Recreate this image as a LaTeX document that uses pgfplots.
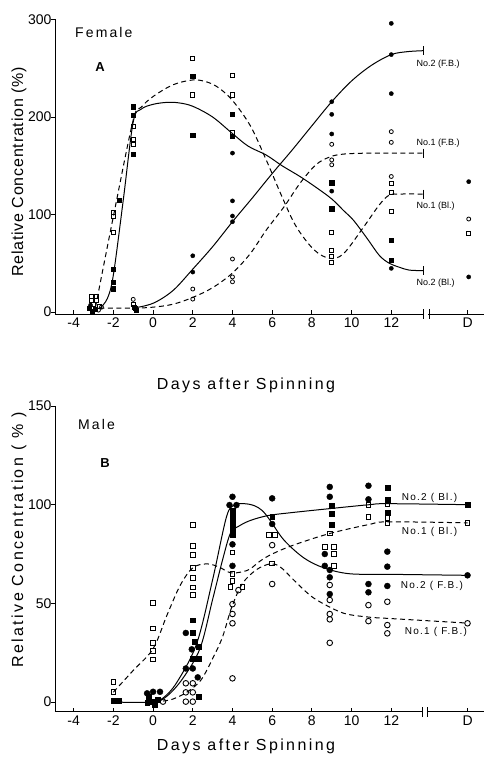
\documentclass[border=0pt]{standalone}
\usepackage{pgfplots}
\pgfplotsset{compat=1.18}
\usepackage{fontspec}
\setmainfont{Liberation Sans}
\newfontfamily\lsbig[LetterSpace=15]{Liberation Sans}
\newfontfamily\lsmid[LetterSpace=5]{Liberation Sans}
\newfontfamily\lssmall[LetterSpace=13]{Liberation Sans}
\begin{document}
\begin{tikzpicture}
\useasboundingbox (0pt,0pt) rectangle (486pt,761pt);
\pgfplotsset{
  panel/.style={
    scale only axis, width=429pt, xmin=-4.94, xmax=16.67,
    axis lines=left, axis line style={-, line width=0.9pt},
    clip=false,
    xtick={-4,-2,0,2,4,6,8,10,12,15.85},
    xticklabels={-4,-2,0,2,4,6,8,10,12,D},
    tick align=inside, major tick length=4pt,
    tick style={black, line width=0.9pt},
    y tick style={xshift=-4pt},
    tick label style={font=\fontsize{14}{14}\selectfont},
  },
  crv/.style={smooth, tension=0.55, line width=1pt, no marks},
  dsh/.style={dash pattern=on 5pt off 3.5pt},
  fcA/.style={only marks, mark=*, mark size=2.1pt},
  ocA/.style={only marks, mark=o, mark size=2pt, mark options={line width=0.8pt}},
  fsA/.style={only marks, mark=square*, mark size=2.1pt},
  osA/.style={only marks, mark=square, mark size=2.1pt, mark options={line width=0.8pt}},
  fcB/.style={only marks, mark=*, mark size=3pt},
  ocB/.style={only marks, mark=o, mark size=2.8pt, mark options={line width=0.9pt}},
  fsB/.style={only marks, mark=square*, mark size=2.4pt},
  osB/.style={only marks, mark=square, mark size=2.3pt, mark options={line width=0.9pt}},
}
% ---------------- Panel A ----------------
\begin{axis}[panel, at={(55pt,447pt)}, anchor=south west, height=294.5pt,
  ymin=-2, ymax=300, ytick={0,100,200,300}, yticklabels={0,100,200,300}]
\addplot[crv] coordinates {(-1,4) (0,9) (1,22) (2,44) (3,67) (4,92.6) (5,117) (6,142) (7,166) (8,191) (9,215.7) (10,237) (11,253) (12,264) (12.8,267) (13.6,268)};
\addplot[crv,dsh] coordinates {(-2.7,4) (-1,4) (0,5) (1,8) (2,15) (3,25) (4,40) (4.9,60) (5.7,84) (6.6,108) (7.4,132) (8.2,151) (8.9,159) (9.6,162) (11,163) (13.6,163)};
\addplot[crv,dsh] coordinates {(-2.9,5) (-2,98) (-1,197) (-0.6,210) (0,221) (1,233) (2,238) (2.7,236) (3.3,230) (4,217) (4.9,191) (5.7,156) (6.5,118) (7.2,88) (8.1,64) (8.9,55) (9.6,60) (10.6,87) (11.4,110) (11.9,120) (12.4,121) (13.6,121)};
\addplot[crv] coordinates {(-2.67,4) (-2.3,14) (-2,38) (-1.5,115) (-1,195) (-0.6,208) (0,213) (0.7,215) (1.3,214.5) (2,211) (3,200) (4,183) (4.8,170) (5.7,161) (6.5,150) (7.4,139) (8.2,128) (9,116) (9.6,104) (10.1,94) (10.8,75) (11.4,58) (11.9,50) (12.4,46) (12.9,43) (13.6,42.5)};
\addplot[only marks, mark=|, mark size=4.5pt, mark options={line width=0.9pt}] coordinates {(13.6,268) (13.6,163) (13.6,121) (13.6,42.5)};
\addplot[fcA] coordinates {(2,57.7) (2,41) (4,163) (4,114) (4,98.5) (4,92.6) (9,215.7) (9,202.7) (9,182.6) (9,124) (12,296) (12,264) (12,224) (12,44.8) (15.9,133.7) (15.9,36) (-3.15,7)};
\addplot[ocA] coordinates {(2,23.6) (2,13.3) (4,54.4) (4,36) (4,31) (9,172) (9,156) (9,151) (12,185) (12,174) (12,139) (15.9,95.4) (-1,13) (-2.75,2) (-2.6,5)};
\addplot[fsA] coordinates {(-1,210.6) (-1,202) (-1,161.7) (-1.7,115) (-2,43.8) (-2,31) (-2,24) (2,242) (2,181.5) (4,202.7) (4,180) (9,132.6) (9,106) (12,74) (12,53) (-3.2,4) (-3.05,1) (-2.9,3) (-0.95,5) (-0.85,2)};
\addplot[osA] coordinates {(-1,190) (-1,177) (-1,172) (-2,102) (-2,98) (-2,81.3) (2,260) (2,222.6) (4,243) (4,222.6) (4,184) (9,81.7) (9,63.6) (9,56.7) (9,50.6) (12,132) (12,122.8) (12,103) (15.9,80.7) (-3.1,16) (-2.85,16) (-3.1,12) (-2.85,12) (-3.0,8) (-2.7,6) (-1,8) (-0.9,4)};
\draw[white, line width=3pt] (axis cs:13.63,-2) -- (axis cs:13.87,-2);
\draw[line width=0.9pt] ([yshift=-5pt]axis cs:13.6,-2) -- ([yshift=5pt]axis cs:13.6,-2);
\draw[line width=0.9pt] ([yshift=-5pt]axis cs:13.9,-2) -- ([yshift=5pt]axis cs:13.9,-2);
\node[anchor=west, font=\fontsize{9}{9}\selectfont] at (axis cs:13.1,254) {No.2 (F.B.)};
\node[anchor=west, font=\fontsize{9}{9}\selectfont] at (axis cs:13.1,173) {No.1 (F.B.)};
\node[anchor=west, font=\fontsize{9}{9}\selectfont] at (axis cs:13.1,109) {No.1 (Bl.)};
\node[anchor=west, font=\fontsize{9}{9}\selectfont] at (axis cs:13.1,29.5) {No.2 (Bl.)};
\node[anchor=west, inner sep=0pt, font=\lsbig\fontsize{14}{14}\selectfont] at (axis cs:-3.93,287) {Female};
\node[font=\bfseries\fontsize{13}{13}\selectfont] at (axis cs:-2.67,251) {A};
\end{axis}
\node[rotate=90, font=\lsmid\fontsize{16}{16}\selectfont] at (19pt,589pt) {Relative Concentration (\%)};
\node[font=\lsbig\fontsize{16}{16}\selectfont] at (246pt,376pt) {Days after Spinning};
% ---------------- Panel B ----------------
\begin{axis}[panel, at={(55pt,49.1pt)}, anchor=south west, height=305.9pt,
  ymin=-5, ymax=150, ytick={0,50,100,150}, yticklabels={0,50,100,150}]
\addplot[crv] coordinates {(-2,0) (0,0) (0.7,3) (1.5,12) (2.37,27.3) (3,52) (3.5,72) (3.9,85.6) (4.3,89) (4.9,92) (5.8,94.5) (7,96) (8.9,98) (10.9,100) (11.8,100.5) (15.84,100)};
\addplot[crv] coordinates {(0,0) (0.5,2) (1.2,10) (2.2,29.7) (3,62) (3.7,93.9) (4.1,99.8) (4.6,100.5) (5.1,99.5) (5.5,97) (5.9,92) (6.6,82) (7.6,73) (8.6,68) (9.9,65) (12,64.7) (15.84,64.2)};
\addplot[crv,dsh] coordinates {(-2,5) (-1,16) (0,27) (0.7,44) (1.36,59) (2,68) (2.7,70) (3.3,68.5) (3.9,65.5) (4.5,66) (4.9,67.5) (5.4,71.5) (6,75) (7.07,79.5) (8.9,85.4) (10.9,90) (11.8,91.3) (15.84,90.8)};
\addplot[crv,dsh] coordinates {(0.5,0.5) (1,1.5) (1.7,5) (2.4,11) (3,22) (3.5,33) (3.96,48) (4.5,60) (5.2,67) (5.9,70) (6.4,68.5) (7.07,62) (7.8,55) (8.4,50.8) (9.6,45) (10.9,43) (11.8,42.4) (15.84,40)};
\addplot[fsB] coordinates {(-2,0.5) (-1.75,0.5) (-0.2,2.5) (0,0) (0.1,-1.5) (-0.3,-0.5) (0.25,1) (2,41.5) (2,35) (2.28,28) (2,22) (2.28,22) (2.28,2.7) (2.1,30.5) (4,97) (4,94.5) (4,92) (4,89.5) (4,87) (4,84.6) (6,93.9) (9,99.3) (9,95.6) (9,90) (11.8,108.8) (11.8,102.7) (11.8,95.9) (15.84,100)};
\addplot[fcB] coordinates {(-0.3,4.4) (0,5.2) (0.35,5.2) (1.65,35) (1.95,26.7) (1.65,17) (2,17) (2.25,12.5) (4,104) (3.85,99.8) (4.2,99.8) (4,79.9) (4,69) (6,103.2) (6,90.2) (8.9,109) (8.9,104) (8.65,75) (8.65,69) (8.9,66.9) (8.9,63.2) (8.9,54.7) (10.85,109.6) (10.85,102.7) (10.85,59.8) (10.85,55.6) (11.8,76.2) (11.8,68.6) (11.8,58.8) (15.84,64.2)};
\addplot[osB] coordinates {(-2,10.3) (-2,5.2) (0,50.3) (0,37.3) (0,30) (0,26) (0,21.6) (2,89.7) (2,79) (2,74.5) (2,68) (2,63) (2,58) (2,54.2) (4,75.8) (4,64.8) (4,61.5) (3.9,58.4) (4.5,58.4) (5.85,84.6) (6.15,84.6) (6,70.3) (8.9,85.4) (8.65,78.7) (9.1,78.7) (9.1,75) (9.1,69) (10.85,99.8) (10.85,93.9) (11.8,100.1) (11.8,93.4) (11.8,90.5) (15.84,90.8)};
\addplot[ocB] coordinates {(0.5,0.2) (1.65,9.5) (2,9.5) (1.65,4.9) (2,4.9) (1.65,0.2) (2,0.2) (4.3,56.7) (4,49.6) (4,44.6) (4,39.9) (4,12) (6,79.5) (6,59.8) (8.9,59.3) (8.9,51.7) (8.9,44.6) (8.9,41.9) (8.9,30) (10.85,49.1) (10.85,41) (11.8,50.8) (11.8,39) (11.8,34.8) (15.84,39.9)};
\draw[white, line width=3pt] (axis cs:13.58,-5) -- (axis cs:13.8,-5);
\draw[line width=0.9pt] ([yshift=-5pt]axis cs:13.55,-5) -- ([yshift=5pt]axis cs:13.55,-5);
\draw[line width=0.9pt] ([yshift=-5pt]axis cs:13.83,-5) -- ([yshift=5pt]axis cs:13.83,-5);
\node[anchor=west, font=\lssmall\fontsize{10}{10}\selectfont] at (axis cs:12.35,103.2) {No.2 ( Bl.)};
\node[anchor=west, font=\lssmall\fontsize{10}{10}\selectfont] at (axis cs:12.35,86.3) {No.1 ( Bl.)};
\node[anchor=west, font=\lssmall\fontsize{10}{10}\selectfont] at (axis cs:12.3,58.8) {No.2 ( F.B.)};
\node[anchor=west, font=\lssmall\fontsize{10}{10}\selectfont] at (axis cs:12.5,35.3) {No.1 ( F.B.)};
\node[anchor=west, inner sep=0pt, font=\lsbig\fontsize{14}{14}\selectfont] at (axis cs:-3.78,140.8) {Male};
\node[font=\bfseries\fontsize{13}{13}\selectfont] at (axis cs:-2.42,121) {B};
\end{axis}
\node[rotate=90, font=\lsbig\fontsize{16}{16}\selectfont] at (19pt,221pt) {Relative Concentration ( \% )};
\node[font=\lsbig\fontsize{16}{16}\selectfont] at (246pt,15pt) {Days after Spinning};
\end{tikzpicture}
\end{document}
